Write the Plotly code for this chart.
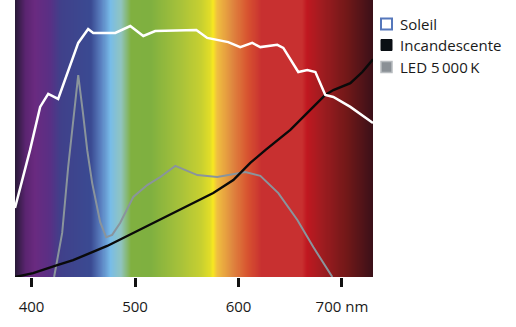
import plotly.graph_objects as go
import numpy as np

# ---- data ----
soleil_nm = [384, 398.5, 408.3, 416.1, 425.7, 435.4, 445.1, 454.7, 459.6, 480.9, 495.4, 508.0,
             519.5, 559.2, 569.8, 590.1, 601.7, 613.3, 621.1, 637.5, 643.3, 657.8, 666.5, 674.3,
             683.9, 691.7, 708.1, 730]
soleil_val = [24.9, 45.8, 61.4, 66.1, 64.3, 74.7, 84.5, 89.5, 88.1, 88.1, 90.6, 87.0,
              88.8, 89.2, 86.3, 84.8, 83.0, 84.5, 83.0, 83.8, 82.7, 74.0, 74.7, 74.0,
              65.7, 65.0, 61.4, 55.6]

incand_nm = [384, 401.5, 424.8, 440.2, 473.1, 498.3, 517.6, 537.0, 563.1, 575.6, 595.0, 611.4,
             625.9, 650.1, 672.3, 683.9, 691.7, 708.1, 719.7, 730]
incand_val = [0, 1.4, 4.3, 6.1, 11.2, 15.9, 19.5, 23.1, 27.8, 30.3, 35.0, 41.2,
              45.8, 53.1, 61.4, 65.7, 67.5, 70.0, 74.0, 78.6]

led_nm = [421.8, 429.6, 435.4, 437.3, 445.1, 449.9, 453.8, 458.6, 466.3, 472.1, 477.9, 485.6,
          498.3, 511.8, 524.4, 538.9, 550.5, 560.2, 579.5, 595.0, 606.6, 621.1, 638.5, 656.9,
          672.3, 690.7]
led_val = [0, 15.9, 39.7, 45.8, 72.9, 58.5, 45.8, 33.9, 19.9, 14.4, 15.2, 19.5,
           28.9, 33.2, 36.1, 40.1, 38.3, 36.8, 36.1, 37.2, 37.9, 36.5, 30.3, 20.6,
           10.8, 0]

tick_vals = [400, 500, 600, 700]
tick_text = ["400", "500", "600", "700 nm"]

legend_names = ["Soleil", "Incandescente", "LED 5\u2009000\u2009K"]

# spectrum background colour stops
spectrum_nm = [384, 394, 403, 418, 428, 457, 467, 476, 486, 496, 515, 544, 564, 572, 575, 579,
               593, 608, 622, 661, 666, 680, 705, 730]
spectrum_colors = ["#2a1a3a", "#5a2470", "#6a2a80", "#583085", "#40408a", "#3a4a92", "#5a80c0",
                   "#78bce8", "#90c4c0", "#80b040", "#7fb040", "#a8c23a", "#c8d030", "#e0dc28",
                   "#f8e820", "#f0c040", "#e08a40", "#d85530", "#c83030", "#c83030", "#c01820",
                   "#a01c20", "#701818", "#3a1018"]

X_MIN, X_MAX = 384, 730
Y_MIN, Y_MAX = 0, 100

# ---- figure ----
lo, hi = spectrum_nm[0], spectrum_nm[-1]
colorscale = [[(w - lo) / (hi - lo), c] for w, c in zip(spectrum_nm, spectrum_colors)]
bg_x = np.arange(X_MIN, X_MAX + 0.5, 0.5)

fig = go.Figure()
fig.add_trace(go.Heatmap(x=bg_x, y=[Y_MIN, Y_MAX], z=[bg_x, bg_x], colorscale=colorscale,
                         zmin=lo, zmax=hi, showscale=False, hoverinfo="skip", zsmooth="best"))
fig.add_trace(go.Scatter(x=led_nm, y=led_val, mode="lines", line=dict(color="#8a949c", width=2),
                         name=legend_names[2], showlegend=False))
fig.add_trace(go.Scatter(x=incand_nm, y=incand_val, mode="lines", line=dict(color="#0a0a0a", width=2.4),
                         name=legend_names[1], showlegend=False))
fig.add_trace(go.Scatter(x=soleil_nm, y=soleil_val, mode="lines", line=dict(color="#ffffff", width=2.5),
                         name=legend_names[0], showlegend=False))

# manual legend
L, T, W, H = 15, 0, 358, 277
def px2paper(px, py):
    return (px - L) / W, 1 - (py - T) / H

legend_style = [
    dict(fillcolor="#ffffff", line=dict(color="#5577bb", width=2)),
    dict(fillcolor="#0a0f14", line=dict(color="#0a0f14", width=1)),
    dict(fillcolor="#8a9096", line=dict(color="#b8bcc0", width=1.5)),
]
centers = [24, 45, 67]
for name, st, cy in zip(legend_names, legend_style, centers):
    x0, y0 = px2paper(381, cy - 5.5)
    x1, y1 = px2paper(392, cy + 5.5)
    fig.add_shape(type="rect", xref="paper", yref="paper", x0=x0, x1=x1, y0=y1, y1=y0,
                  fillcolor=st["fillcolor"], line=st["line"], layer="above")
    tx, ty = px2paper(398, cy)
    fig.add_annotation(xref="paper", yref="paper", x=tx, y=ty, text=name, showarrow=False,
                       xanchor="left", yanchor="middle",
                       font=dict(family="Open Sans", size=15, color="#1a1a1a"))

fig.update_layout(
    width=516, height=327,
    margin=dict(l=L, r=516 - L - W, t=T, b=327 - T - H),
    paper_bgcolor="white", plot_bgcolor="white",
    showlegend=False,
    xaxis=dict(range=[X_MIN, X_MAX], tickvals=tick_vals, ticktext=tick_text,
               ticks="outside", ticklen=9, tickwidth=3, tickcolor="#111",
               ticklabelstandoff=7,
               showgrid=False, zeroline=False, showline=False,
               tickfont=dict(family="Open Sans", size=15, color="#1a1a1a")),
    yaxis=dict(range=[Y_MIN, Y_MAX], showticklabels=False, showgrid=False, zeroline=False,
               showline=False, ticks=""),
)
fig.write_html("out.html")
